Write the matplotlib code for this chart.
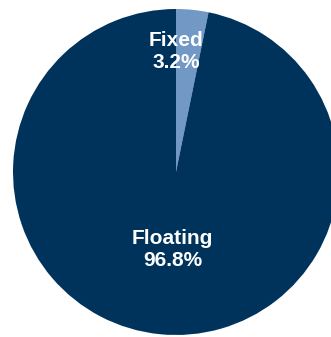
import matplotlib
matplotlib.use("Agg")
import matplotlib.pyplot as plt

labels = ["Fixed", "Floating"]
values = [3.2, 96.8]
colors = ["#7299C6", "#00335C"]

W, H = 331, 337
fig = plt.figure(figsize=(W / 100, H / 100), dpi=100)
cx, cy, r = 176, 172, 163
ax = fig.add_axes([(cx - r) / W, (H - cy - r) / H, 2 * r / W, 2 * r / H])
ax.pie(values, colors=colors, startangle=90, counterclock=False, radius=1,
       wedgeprops=dict(linewidth=0))
ax.set_xlim(-1, 1)
ax.set_ylim(-1, 1)
ax.set_aspect("equal")
ax.axis("off")

pos = [(0.0, 0.74), (-0.02, -0.475)]
for lab, v, (x, y) in zip(labels, values, pos):
    ax.text(x, y, f"{lab}\n{v:.1f}%", ha="center", va="center", color="white",
            fontsize=15, fontweight="bold", family="Liberation Sans",
            linespacing=1.2)

fig.savefig("out.png", dpi=100)
